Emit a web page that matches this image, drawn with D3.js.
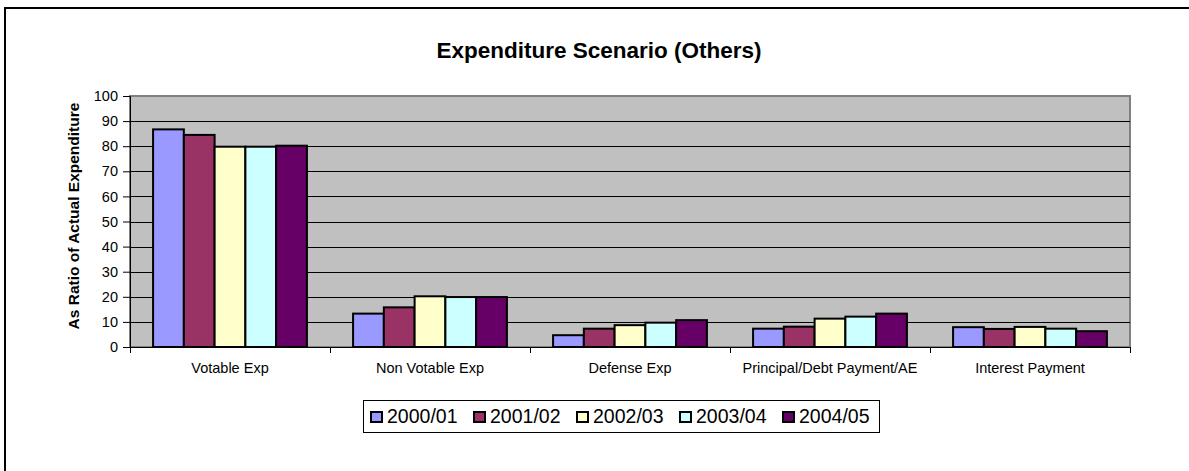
<!DOCTYPE html>
<html>
<head>
<meta charset="utf-8">
<script src="https://cdn.jsdelivr.net/npm/d3@7"></script>
<style>
  html, body { margin: 0; padding: 0; background: #fff; overflow: hidden; }
  svg { display: block; font-family: "Liberation Sans", Arial, sans-serif; }
</style>
</head>
<body>
<svg id="chart" width="1189" height="471"></svg>
<script>
const categories = ["Votable Exp", "Non Votable Exp", "Defense Exp", "Principal/Debt Payment/AE", "Interest Payment"];
const seriesNames = ["2000/01", "2001/02", "2002/03", "2003/04", "2004/05"];
const s2000 = [86.7, 13.3, 4.7, 7.3, 7.9];
const s2001 = [84.5, 15.8, 7.3, 8.1, 7.2];
const s2002 = [79.8, 20.2, 8.7, 11.3, 8.0];
const s2003 = [79.8, 19.9, 9.7, 12.1, 7.3];
const s2004 = [80.2, 19.9, 10.7, 13.3, 6.3];
const seriesColors = ["#9999FF", "#993366", "#FFFFCC", "#CCFFFF", "#660066"];
const yTicks = [0, 10, 20, 30, 40, 50, 60, 70, 80, 90, 100];
const titleText = "Expenditure Scenario (Others)";
const yAxisTitle = "As Ratio of Actual Expenditure";

const seriesValues = [s2000, s2001, s2002, s2003, s2004];

const svg = d3.select("#chart");

// outer chart frame (only top and left edges visible)
svg.append("line").attr("x1", 5).attr("x2", 1189).attr("y1", 8).attr("y2", 8)
  .attr("stroke", "#000").attr("stroke-width", 2);
svg.append("line").attr("x1", 5).attr("x2", 5).attr("y1", 7).attr("y2", 471)
  .attr("stroke", "#000").attr("stroke-width", 2);

const plot = { left: 130, right: 1130, top: 96, bottom: 347 };

const x0 = d3.scaleBand().domain(categories).range([plot.left, plot.right]).padding(0);
const x1 = d3.scaleBand().domain(seriesNames).range([0, x0.bandwidth()]).paddingInner(0).paddingOuter(0.75);
const y = d3.scaleLinear().domain([0, 100]).range([plot.bottom, plot.top]);

// plot background
svg.append("rect")
  .attr("x", plot.left).attr("y", plot.top)
  .attr("width", plot.right - plot.left).attr("height", plot.bottom - plot.top)
  .attr("fill", "#C0C0C0").attr("stroke", "#808080").attr("stroke-width", 2);

// gridlines
svg.append("g")
  .selectAll("line")
  .data(yTicks.filter(d => d > 0 && d < 100))
  .join("line")
  .attr("x1", plot.left).attr("x2", plot.right)
  .attr("y1", d => Math.round(y(d)) + 0.5).attr("y2", d => Math.round(y(d)) + 0.5)
  .attr("stroke", "#000").attr("stroke-width", 1);

// bars
const groups = svg.append("g")
  .selectAll("g")
  .data(categories)
  .join("g")
  .attr("transform", d => `translate(${x0(d)},0)`);

groups.selectAll("rect")
  .data((c, ci) => seriesNames.map((s, si) => ({ s, si, v: seriesValues[si][ci] })))
  .join("rect")
  .attr("x", d => x1(d.s))
  .attr("y", d => y(d.v))
  .attr("width", x1.bandwidth())
  .attr("height", d => y(0) - y(d.v))
  .attr("fill", d => seriesColors[d.si])
  .attr("stroke", "#000")
  .attr("stroke-width", 2);

// y axis
const yAxis = d3.axisLeft(y).tickValues(yTicks).tickSize(7).tickPadding(5).tickFormat(d3.format("d"));
const yg = svg.append("g").attr("transform", `translate(${plot.left},0)`).call(yAxis);
yg.select(".domain").attr("stroke", "#000").attr("stroke-width", 1);
yg.selectAll(".tick line").attr("stroke", "#000");
yg.selectAll(".tick text").attr("font-size", "14.5px").attr("fill", "#000")
  .attr("font-family", "Liberation Sans, Arial, sans-serif");

// x axis
const xBoundaries = d3.scaleLinear().domain([0, categories.length]).range([plot.left, plot.right]);
const xAxisG = svg.append("g");
xAxisG.append("line")
  .attr("x1", plot.left).attr("x2", plot.right)
  .attr("y1", plot.bottom + 0.5).attr("y2", plot.bottom + 0.5)
  .attr("stroke", "#000").attr("stroke-width", 1);
xAxisG.selectAll("line.tk")
  .data(d3.range(categories.length + 1))
  .join("line")
  .attr("class", "tk")
  .attr("x1", d => Math.round(xBoundaries(d)) + 0.5).attr("x2", d => Math.round(xBoundaries(d)) + 0.5)
  .attr("y1", plot.bottom).attr("y2", plot.bottom + 6)
  .attr("stroke", "#000");
xAxisG.selectAll("text")
  .data(categories)
  .join("text")
  .attr("x", d => x0(d) + x0.bandwidth() / 2)
  .attr("y", 373)
  .attr("text-anchor", "middle")
  .attr("font-size", "14.5px")
  .text(d => d);

// title
svg.append("text")
  .attr("x", 599).attr("y", 58)
  .attr("text-anchor", "middle")
  .attr("font-size", "22.5px").attr("font-weight", "bold")
  .text(titleText);

// y axis title
svg.append("text")
  .attr("transform", "translate(79,216) rotate(-90)")
  .attr("text-anchor", "middle")
  .attr("font-size", "15.5px").attr("font-weight", "bold")
  .text(yAxisTitle);

// legend
const legend = svg.append("g");
legend.append("rect")
  .attr("x", 363.5).attr("y", 400.5).attr("width", 516).attr("height", 32)
  .attr("fill", "#fff").attr("stroke", "#000").attr("stroke-width", 1);
const items = legend.selectAll("g.item")
  .data(seriesNames)
  .join("g")
  .attr("class", "item")
  .attr("transform", (d, i) => `translate(${371 + i * 103},0)`);
items.append("rect")
  .attr("x", 0).attr("y", 412).attr("width", 11).attr("height", 10)
  .attr("fill", (d, i) => seriesColors[i])
  .attr("stroke", "#000").attr("stroke-width", 2);
items.append("text")
  .attr("x", 16).attr("y", 423)
  .attr("font-size", "19.5px")
  .text(d => d);
</script>
</body>
</html>
